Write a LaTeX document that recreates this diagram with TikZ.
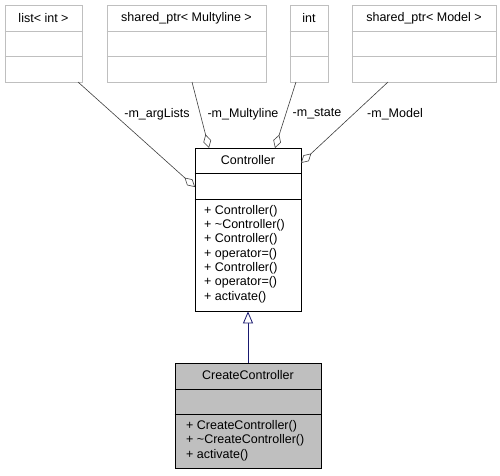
\documentclass[tikz,border=0pt]{standalone}
\usepackage{fontspec}
\setmainfont{Liberation Sans}
\usetikzlibrary{arrows.meta,calc}
\definecolor{boxgray}{RGB}{191,191,191}
\definecolor{edgegray}{RGB}{64,64,64}
\definecolor{navyarrow}{RGB}{25,25,112}
\begin{document}
\begin{tikzpicture}[x=1pt,y=-1pt,
  every node/.style={font=\fontsize{12.5}{14.3}\selectfont, inner sep=0pt},
  grayclass/.style={draw=boxgray, line width=0.8pt, rectangle},
  mainclass/.style={draw=black, line width=0.8pt, rectangle},
  subclass/.style={draw=black, fill=boxgray, line width=0.8pt, rectangle},
  graysep/.style={draw=boxgray, line width=0.8pt},
  blacksep/.style={draw=black, line width=0.8pt},
  member/.style={draw=edgegray, line width=0.6pt, -{Diamond[open,fill=white,length=14pt,width=8pt]}},
  inherit/.style={draw=navyarrow, line width=0.8pt, -{Triangle[open,fill=white,length=12pt,width=10pt]}},
  lbl/.style={anchor=center},
  meth/.style={anchor=west}
]
\useasboundingbox[fill=white] (0,0) rectangle (500,475);

% top classes
\node[grayclass, minimum width=77pt, minimum height=77pt] (list) at (43.5,43.5) {};
\node[grayclass, minimum width=159pt, minimum height=77pt] (mline) at (186.5,43.5) {};
\node[grayclass, minimum width=38pt, minimum height=77pt] (intc) at (309,43.5) {};
\node[grayclass, minimum width=144pt, minimum height=77pt] (model) at (424,43.5) {};
\foreach \b in {list,mline,intc,model}{
  \draw[graysep] (\b.west |- 0,31.5) -- (\b.east |- 0,31.5);
  \draw[graysep] (\b.west |- 0,56.5) -- (\b.east |- 0,56.5);
}
\node (listt) at (43.5,18.5) {list< int >};
\node (mlinet) at (186.5,18.5) {shared\_ptr< Multyline >};
\node (intt) at (309,18.5) {int};
\node (modelt) at (424,18.5) {shared\_ptr< Model >};

% Controller
\node[mainclass, minimum width=106pt, minimum height=163pt] (ctrl) at (248,229.5) {};
\draw[blacksep] (ctrl.west |- 0,173) -- (ctrl.east |- 0,173);
\draw[blacksep] (ctrl.west |- 0,199) -- (ctrl.east |- 0,199);
\node (ctrlt) at (248,160.5) {Controller};
\node[meth] (cm1) at (204,211) {+ Controller()};
\node[meth] (cm2) at (204,225.3) {+ \char`\~Controller()};
\node[meth] (cm3) at (204,239.6) {+ Controller()};
\node[meth] (cm4) at (204,254) {+ operator=()};
\node[meth] (cm5) at (204,268.3) {+ Controller()};
\node[meth] (cm6) at (204,282.6) {+ operator=()};
\node[meth] (cm7) at (204,297) {+ activate()};

% CreateController
\node[subclass, minimum width=146pt, minimum height=105pt] (cc) at (248,415.5) {};
\draw[blacksep] (cc.west |- 0,389) -- (cc.east |- 0,389);
\draw[blacksep] (cc.west |- 0,414) -- (cc.east |- 0,414);
\node (cct) at (248,375.5) {CreateController};
\node[meth] (ccm1) at (186,426) {+ CreateController()};
\node[meth] (ccm2) at (186,440.7) {+ \char`\~CreateController()};
\node[meth] (ccm3) at (186,455) {+ activate()};

% member connectors
\coordinate (listout) at (78,82);
\coordinate (mlineout) at (192,82);
\coordinate (intout) at (296,82);
\coordinate (modelout) at (388,82);
\coordinate (ctrlA) at (195,187);
\coordinate (ctrlB) at (209,148);
\coordinate (ctrlC) at (275,148);
\coordinate (ctrlD) at (301,163);
\draw[member] (listout) -- (ctrlA);
\draw[member] (mlineout) -- (ctrlB);
\draw[member] (intout) -- (ctrlC);
\draw[member] (modelout) -- (ctrlD);
\node[lbl] (l1) at (157,114) {-m\_argLists};
\node[lbl] (l2) at (243,114) {-m\_Multyline};
\node[lbl] (l3) at (317,114) {-m\_state};
\node[lbl] (l4) at (395,114) {-m\_Model};

% inheritance
\draw[inherit] (cc.north) -- (ctrl.south);
\end{tikzpicture}
\end{document}
